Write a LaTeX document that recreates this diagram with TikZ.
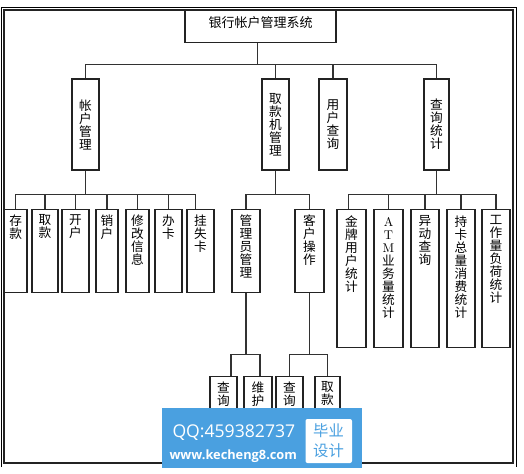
\documentclass[tikz,border=0pt]{standalone}
\usepackage{fontspec}
\newfontfamily\cjk{Noto Sans CJK SC}
\newfontfamily\wmfont{Open Sans}
\usetikzlibrary{positioning}
\definecolor{boxline}{RGB}{35,35,35}
\definecolor{connline}{RGB}{50,50,50}
\definecolor{wmblue}{RGB}{74,160,224}
\tikzset{every picture/.style={line width=0.75pt}}

\begin{document}
\begin{tikzpicture}[x=0.75pt,y=0.75pt,yscale=-1,xscale=1,
	box/.style={draw=boxline, line width=1.1pt, fill=white, inner sep=0pt},
	size/.style 2 args={minimum width=#1*0.75pt, minimum height=#2*0.75pt},
	vlab/.style={font=\cjk\fontsize{9.5}{9.75}\selectfont, align=center, inner sep=0pt},
	conn/.style={draw=connline, line width=0.8pt}]
	\useasboundingbox (0,0) rectangle (524,474);

	%Shape: Frame
	\draw [line width=1.4pt] (1.5,467) |- (516.5,7.5) -- (516.5,467) ;
	\draw [line width=0.8pt, color=boxline] (4,10) rectangle (513,463) ;

	%Shape: Rectangle [root]
	\node [box, minimum width=151*0.75pt, text height=12.4pt, text depth=11.6pt, font=\cjk\fontsize{9.75}{9.75}\selectfont, anchor=north] (root) at (260.5,10) {银行帐户管理系统};

	%Shape: Rectangle [level 1]
	\node [box, vlab, size={27}{91}] (zhgl) at (85.5,124.5) {帐\\户\\管\\理};
	\node [box, vlab, size={27}{91}] (qkj) at (275.5,124.5) {取\\款\\机\\管\\理};
	\node [box, vlab, size={28}{91}] (yhcx) at (333,124.5) {用\\户\\查\\询};
	\node [box, vlab, size={25}{91}] (cxtj) at (436.5,124.5) {查\\询\\统\\计};

	%Shape: Rectangle [level 2]
	\node [box, size={22.5}{83}, anchor=north] (ck) at (15.75,209) {};
	\node [box, size={26}{83}, anchor=north] (qk) at (45,209) {};
	\node [box, size={27}{83}, anchor=north] (kh) at (75.5,209) {};
	\node [box, size={22}{83}, anchor=north] (xh) at (107,209) {};
	\node [box, size={23}{83}, anchor=north] (xgxx) at (137.5,209) {};
	\node [box, size={27}{83}, anchor=north] (bk) at (168.5,209) {};
	\node [box, size={27}{83}, anchor=north] (gsk) at (200.5,209) {};
	\node [box, size={28}{83}, anchor=north] (glygl) at (246,209) {};
	\node [box, size={29}{83}, anchor=north] (khcz) at (309.5,209) {};
	\node [box, size={29}{138}, anchor=north] (jpyh) at (351.5,209) {};
	\node [box, size={29}{138}, anchor=north] (atm) at (388.5,209) {};
	\node [box, size={28}{138}, anchor=north] (ydcx) at (425,209) {};
	\node [box, size={28}{138}, anchor=north] (ckzl) at (461,209) {};
	\node [box, size={28}{138}, anchor=north] (gzl) at (496,209) {};

	%Shape: Rectangle [level 3]
	\node [box, size={27}{64}, anchor=north] (glcx) at (223.5,376) {};
	\node [box, size={28}{64}, anchor=north] (glwh) at (258,376) {};
	\node [box, size={27}{64}, anchor=north] (khcx) at (289.5,376) {};
	\node [box, size={25}{64}, anchor=north] (khqk) at (327.5,376) {};

	% Text Node
	\node [vlab, anchor=north] (ck-t) at (15.75,214) {存\\款};
	% Text Node
	\node [vlab, anchor=north] (qk-t) at (45,214) {取\\款};
	% Text Node
	\node [vlab, anchor=north] (kh-t) at (75.5,214) {开\\户};
	% Text Node
	\node [vlab, anchor=north] (xh-t) at (107,214) {销\\户};
	% Text Node
	\node [vlab, anchor=north] (xgxx-t) at (137.5,214) {修\\改\\信\\息};
	% Text Node
	\node [vlab, anchor=north] (bk-t) at (168.5,214) {办\\卡};
	% Text Node
	\node [vlab, anchor=north] (gsk-t) at (200.5,214) {挂\\失\\卡};
	% Text Node
	\node [vlab, anchor=north] (glygl-t) at (246,214) {管\\理\\员\\管\\理};
	% Text Node
	\node [vlab, anchor=north] (khcz-t) at (309.5,214) {客\\户\\操\\作};
	% Text Node
	\node [vlab, anchor=north] (jpyh-t) at (351.5,215) {金\\牌\\用\\户\\统\\计};
	% Text Node
	\node [vlab, anchor=north] (atm-t) at (388.5,217) {{\rmfamily A}\\{\rmfamily T}\\{\rmfamily M}\\业\\务\\量\\统\\计};
	% Text Node
	\node [vlab, anchor=north] (ydcx-t) at (425,215) {异\\动\\查\\询};
	% Text Node
	\node [vlab, anchor=north] (ckzl-t) at (461,215) {持\\卡\\总\\量\\消\\费\\统\\计};
	% Text Node
	\node [vlab, anchor=north] (gzl-t) at (496,215) {工\\作\\量\\负\\荷\\统\\计};
	% Text Node
	\node [vlab, anchor=north] (glcx-t) at (223.5,381) {查\\询};
	% Text Node
	\node [vlab, anchor=north] (glwh-t) at (258,381) {维\\护};
	% Text Node
	\node [vlab, anchor=north] (khcx-t) at (289.5,381) {查\\询};
	% Text Node
	\node [vlab, anchor=north] (khqk-t) at (327.5,381) {取\\款};

	%Straight Lines [root to level 1]
	\draw [conn] ([xshift=-2.6pt]root.south) -- ++(0,21) -| (zhgl.north) ;
	\draw [conn] ([xshift=-2.6pt]root.south) -- ++(0,21) -| (qkj.north) ;
	\draw [conn] ([xshift=-2.6pt]root.south) -- ++(0,21) -| (yhcx.north) ;
	\draw [conn] ([xshift=-2.6pt]root.south) -- ++(0,21) -| (cxtj.north) ;

	%Straight Lines [level 1 to level 2]
	\draw [conn] (zhgl.south) -- ++(0,24) -| (ck.north) ;
	\draw [conn] (zhgl.south) -- ++(0,24) -| (qk.north) ;
	\draw [conn] (zhgl.south) -- ++(0,24) -| (kh.north) ;
	\draw [conn] (zhgl.south) -- ++(0,24) -| (xh.north) ;
	\draw [conn] (zhgl.south) -- ++(0,24) -| (xgxx.north) ;
	\draw [conn] (zhgl.south) -- ++(0,24) -| (bk.north) ;
	\draw [conn] (zhgl.south) -- ++(0,24) -| ([xshift=-4.1pt]gsk.north) ;
	\draw [conn] (qkj.south) -- ++(0,24) -| (glygl.north) ;
	\draw [conn] (qkj.south) -- ++(0,24) -| (khcz.north) ;
	\draw [conn] (cxtj.south) -- ++(0,24) -| ([xshift=-2.6pt]jpyh.north) ;
	\draw [conn] (cxtj.south) -- ++(0,24) -| (atm.north) ;
	\draw [conn] (cxtj.south) -- ++(0,24) -| (ydcx.north) ;
	\draw [conn] (cxtj.south) -- ++(0,24) -| (ckzl.north) ;
	\draw [conn] (cxtj.south) -- ++(0,24) -| (gzl.north) ;

	%Straight Lines [level 2 to level 3]
	\draw [conn] (glygl.south) -- ++(0,61) -| ([xshift=5.6pt]glcx.north) ;
	\draw [conn] (glygl.south) -- ++(0,61) -| ([xshift=1.5pt]glwh.north) ;
	\draw [conn] (khcz.south) -- ++(0,61) -| (khcx.north) ;
	\draw [conn] (khcz.south) -- ++(0,61) -| (khqk.north) ;

	%Shape: Watermark
	\fill [wmblue] (162,407.5) rectangle (362,468) ;
	\fill [white, rounded corners=1.5pt] (305.5,419) rectangle (352,463) ;
	% Text Node
	\node [font=\wmfont\fontsize{13.2}{13.2}\selectfont, text=white, inner sep=0pt, anchor=base west] (qq) at (172,437) {QQ:459382737};
	% Text Node
	\node [font=\wmfont\bfseries\fontsize{9.6}{9.6}\selectfont, text=white, inner sep=0pt, anchor=base west] (web) at (169,459.5) {www.kecheng8.com};
	% Text Node
	\node [font=\cjk\fontsize{11.5}{15}\selectfont, text=wmblue, align=center, inner sep=0pt] (bysj) at (328.5,440.5) {毕业\\设计};

\end{tikzpicture}
\end{document}
